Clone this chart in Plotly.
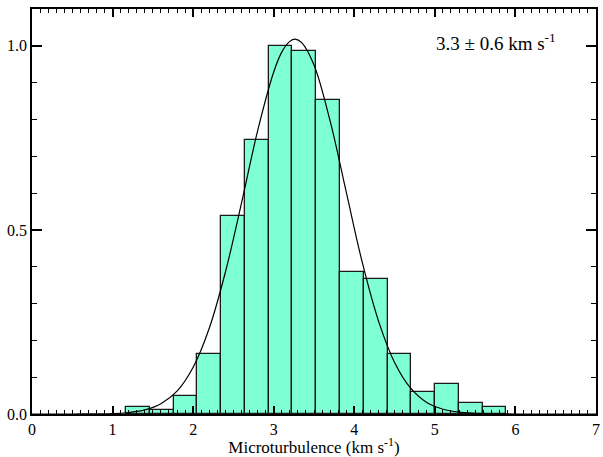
import plotly.graph_objects as go

# Histogram bins (centres, km/s) and normalised counts
bin_centers = [1.315, 1.610, 1.905, 2.200, 2.495, 2.790, 3.085, 3.380,
               3.675, 3.970, 4.265, 4.560, 4.855, 5.150, 5.445, 5.740]
bin_width = 0.295
bin_heights = [0.020, 0.010, 0.050, 0.163, 0.539, 0.745, 1.000, 0.987,
               0.854, 0.387, 0.366, 0.163, 0.060, 0.082, 0.031, 0.020]

# Fitted curve, points
curve_x = [0.0, 0.5, 1.0, 1.2, 1.4, 1.6, 1.8, 2.0, 2.2, 2.4, 2.6, 2.8, 3.0,
           3.1, 3.2, 3.265, 3.35, 3.5, 3.7, 3.9, 4.1, 4.3, 4.5, 4.7, 4.9,
           5.1, 5.3, 5.6, 6.0, 6.5, 7.0]
curve_y = [0.0, 0.0, 0.001, 0.004, 0.011, 0.028, 0.062, 0.127, 0.233, 0.385,
           0.573, 0.769, 0.929, 0.983, 1.012, 1.018, 1.008, 0.948, 0.796,
           0.603, 0.411, 0.253, 0.140, 0.070, 0.031, 0.013, 0.005, 0.001,
           0.0, 0.0, 0.0]

x_ticks = [0, 1, 2, 3, 4, 5, 6, 7]
y_ticks = [0.0, 0.5, 1.0]
y_tick_labels = ["0.0", "0.5", "1.0"]

FONT = "Liberation Serif"

fig = go.Figure()
fig.add_trace(go.Bar(
    x=bin_centers, y=bin_heights, width=[bin_width] * len(bin_centers),
    marker=dict(color="#7fffd4", line=dict(color="#1a1a1a", width=1.3)),
    showlegend=False,
))
fig.add_trace(go.Scatter(
    x=curve_x, y=curve_y, mode="lines",
    line=dict(color="black", width=1.2, shape="spline"),
    showlegend=False,
))

fig.add_annotation(
    x=4.99, y=1.01, xref="x", yref="y", xanchor="left", yanchor="middle",
    text="3.3 ± 0.6 km s<sup>-1</sup>", showarrow=False,
    font=dict(family=FONT, size=19, color="black"),
)

axis_common = dict(
    showline=True, linecolor="black", linewidth=1.8, mirror="ticks",
    ticks="inside", tickcolor="black", showgrid=False, zeroline=False,
    tickfont=dict(family=FONT, size=16, color="black"),
)

fig.update_layout(
    width=603, height=457,
    margin=dict(l=32, r=3, t=9, b=43),
    paper_bgcolor="white", plot_bgcolor="white",
    font=dict(family=FONT, color="black"),
    bargap=0,
    xaxis=dict(
        range=[0, 7], tickvals=x_ticks, ticklen=8, tickwidth=1.5,
        minor=dict(dtick=0.1, tick0=0, ticklen=4, tickwidth=1, ticks="inside",
                   tickcolor="black", showgrid=False),
        title=dict(text="Microturbulence (km s<sup>-1</sup>)",
                   font=dict(family=FONT, size=17, color="black"), standoff=1),
        **axis_common,
    ),
    yaxis=dict(
        range=[0, 1.1], tickvals=y_ticks, ticktext=y_tick_labels,
        ticklen=10, tickwidth=1.5,
        minor=dict(dtick=0.1, tick0=0, ticklen=5, tickwidth=1, ticks="inside",
                   tickcolor="black", showgrid=False),
        **axis_common,
    ),
)

fig.write_html("out.html")
